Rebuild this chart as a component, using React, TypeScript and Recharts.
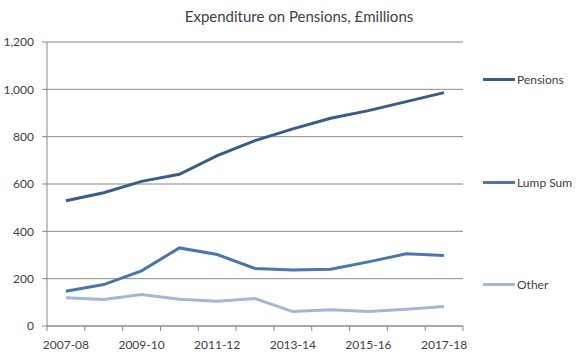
import React from "react";
import { LineChart, Line, XAxis, YAxis, CartesianGrid } from "recharts";

const categories = ["2007-08", "2008-09", "2009-10", "2010-11", "2011-12", "2012-13", "2013-14", "2014-15", "2015-16", "2016-17", "2017-18"];
const pensions = [529, 563, 611, 641, 720, 783, 833, 878, 910, 948, 986];
const lumpSum = [147, 175, 233, 330, 302, 243, 237, 240, 271, 305, 298];
const other = [119, 112, 133, 113, 105, 116, 61, 69, 61, 71, 82];
const yTicks = [0, 200, 400, 600, 800, 1000, 1200];
const seriesNames = ["Pensions", "Lump Sum", "Other"];
const seriesColors = ["#385D8A", "#4A76AD", "#A3B7D6"];

const data = categories.map((c, i) => ({ cat: c, Pensions: pensions[i], "Lump Sum": lumpSum[i], Other: other[i] }));

const FONT = "Lato, 'Open Sans', sans-serif";
const TEXT = "#404040";
const AXIS = "#8a8a8a";

const W = 579;
const H = 356;
const MARGIN = { top: 42, right: 116, bottom: 10, left: 7 };
const Y_W = 40;
const TICK_SIZE = 5;
const TICK_MARGIN = 9;

const XTick = (props: any) => {
  const { x, y, payload, index } = props;
  const plotW = W - MARGIN.left - Y_W - MARGIN.right;
  const half = payload && payload.offset ? payload.offset : plotW / categories.length / 2;
  const axisY = y - TICK_SIZE - TICK_MARGIN;
  const isLast = index === categories.length - 1;
  return (
    <g>
      <line x1={x - half} x2={x - half} y1={axisY} y2={axisY + TICK_SIZE} stroke={AXIS} strokeWidth={1} />
      {isLast && <line x1={x + half} x2={x + half} y1={axisY} y2={axisY + TICK_SIZE} stroke={AXIS} strokeWidth={1} />}
      {index % 2 === 0 && (
        <text x={x} y={y} dy="0.71em" textAnchor="middle" fontSize={12} fill={TEXT} fontFamily={FONT}>
          {payload.value}
        </text>
      )}
    </g>
  );
};

export default function App() {
  const legendY = [79, 182, 284];
  return (
    <div style={{ position: "absolute", left: 0, top: 0, width: W, height: H, background: "#fff", fontFamily: FONT }}>
      <div style={{ position: "absolute", left: 0, width: 598, top: 7, textAlign: "center", fontSize: 15, color: TEXT }}>
        Expenditure on Pensions, £millions
      </div>
      <LineChart width={W} height={H} data={data} margin={MARGIN}>
        <CartesianGrid vertical={false} stroke={AXIS} strokeWidth={1} />
        <XAxis
          dataKey="cat"
          scale="band"
          interval={0}
          stroke={AXIS}
          tickLine={false}
          tickSize={TICK_SIZE}
          tickMargin={TICK_MARGIN}
          height={20}
          tick={<XTick />}
        />
        <YAxis
          width={Y_W}
          domain={[0, 1200]}
          ticks={yTicks}
          stroke={AXIS}
          tickSize={TICK_SIZE}
          tickMargin={8}
          tick={{ fontSize: 12, fill: TEXT, fontFamily: FONT }}
          tickFormatter={(v: number) => v.toLocaleString("en-US")}
        />
        {seriesNames.map((s, i) => (
          <Line key={s} dataKey={s} stroke={seriesColors[i]} strokeWidth={3} dot={false} isAnimationActive={false} />
        ))}
      </LineChart>
      {seriesNames.map((s, i) => (
        <div key={s} style={{ position: "absolute", left: 483, top: legendY[i] - 8, height: 16, display: "flex", alignItems: "center" }}>
          <div style={{ width: 32, height: 3, background: seriesColors[i] }} />
          <span style={{ marginLeft: 2, fontSize: 12, color: TEXT }}>{s}</span>
        </div>
      ))}
    </div>
  );
}
